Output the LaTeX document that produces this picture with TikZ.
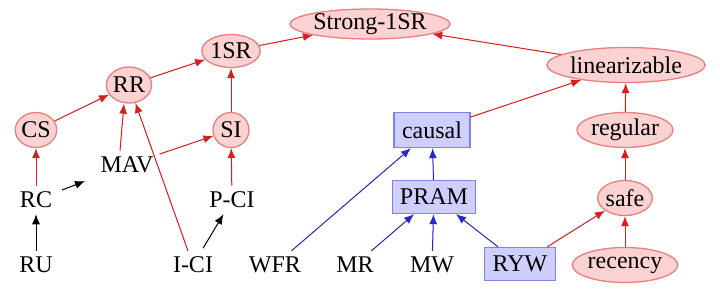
\documentclass[tikz,border=0pt]{standalone}
\usepackage{fontspec}
\setmainfont{Liberation Serif}
\usetikzlibrary{shapes.geometric,arrows.meta}
\definecolor{pfill}{RGB}{250,210,210}
\definecolor{pdraw}{RGB}{232,128,128}
\definecolor{bfill}{RGB}{206,206,255}
\definecolor{bdraw}{RGB}{130,130,226}
\definecolor{redge}{RGB}{218,30,30}
\definecolor{bedge}{RGB}{40,40,200}
\begin{document}
\begin{tikzpicture}[x=1pt,y=-1pt,
  font=\fontsize{24}{28}\selectfont,
  pell/.style={ellipse,fill=pfill,draw=pdraw,line width=1.3pt,inner sep=0pt},
  bbox/.style={rectangle,fill=bfill,draw=bdraw,line width=1.3pt,inner sep=0pt},
  txt/.style={inner sep=6pt},
  tip/.style={-{Latex[length=10pt,width=8pt]}},
  redarr/.style={tip,draw=redge,fill=redge,line width=1pt},
  bluearr/.style={tip,draw=bedge,fill=bedge,line width=1pt},
  blackarr/.style={tip,draw=black,fill=black,line width=1pt}]
\useasboundingbox (0,0) rectangle (720,290);
% nodes
\node[pell,minimum width=154pt,minimum height=30pt] (S1SR) at (370,24) {Strong-1SR};
\node[pell,minimum width=57pt,minimum height=33pt] (OSR) at (231,51) {1SR};
\node[pell,minimum width=45pt,minimum height=36pt] (RR) at (129,85) {RR};
\node[pell,minimum width=40pt,minimum height=35pt] (CS) at (36,130) {CS};
\node[pell,minimum width=36pt,minimum height=35pt] (SI) at (231,130) {SI};
\node[pell,minimum width=155pt,minimum height=35pt] (lin) at (626,65) {linearizable};
\node[pell,minimum width=90pt,minimum height=35pt] (reg) at (625,130) {regular};
\node[pell,minimum width=54pt,minimum height=35pt] (safe) at (625,198) {safe};
\node[pell,minimum width=97pt,minimum height=35pt] (rec) at (625,265) {recency};
\node[bbox,minimum width=76pt,minimum height=35pt] (causal) at (432,130) {causal};
\node[bbox,minimum width=83pt,minimum height=33pt] (PRAM) at (434,197) {PRAM};
\node[bbox,minimum width=71pt,minimum height=33pt] (RYW) at (520,264) {RYW};
\node[txt] (MAV) at (127,165) {MAV};
\node[txt] (RC) at (36,200) {RC};
\node[txt] (PCI) at (232,200) {P-CI};
\node[txt] (RU) at (36,265) {RU};
\node[txt] (ICI) at (193,265) {I-CI};
\node[txt] (WFR) at (275,265) {WFR};
\node[txt] (MR) at (355,265) {MR};
\node[txt] (MW) at (432,265) {MW};
% red edges
\draw[redarr] (OSR) -- (S1SR);
\draw[redarr] (RR) -- (OSR);
\draw[redarr] (CS) -- (RR);
\draw[redarr] (SI) -- (OSR);
\draw[redarr] ([xshift=-7pt]MAV.north) -- ([xshift=-5pt]RR.south);
\draw[redarr] (ICI) -- (RR);
\draw[redarr] (MAV) -- (SI);
\draw[redarr] (RC) -- (CS);
\draw[redarr] (PCI) -- (SI);
\draw[redarr] (causal) -- (lin);
\draw[redarr] (lin) -- (S1SR);
\draw[redarr] (reg) -- (lin);
\draw[redarr] (safe) -- (reg);
\draw[redarr] (rec) -- (safe);
\draw[redarr] (RYW) -- (safe);
% black edges
\draw[blackarr] (RU) -- (RC);
\draw[blackarr,shorten >=10pt,shorten <=4pt] (RC) -- (MAV);
\draw[blackarr,shorten <=3pt] (ICI) -- (PCI);
% blue edges
\draw[bluearr] (WFR) -- (causal);
\draw[bluearr] (MR) -- (PRAM);
\draw[bluearr] (MW) -- (PRAM);
\draw[bluearr] (RYW) -- (PRAM);
\draw[bluearr] (PRAM) -- (causal);
\end{tikzpicture}
\end{document}
